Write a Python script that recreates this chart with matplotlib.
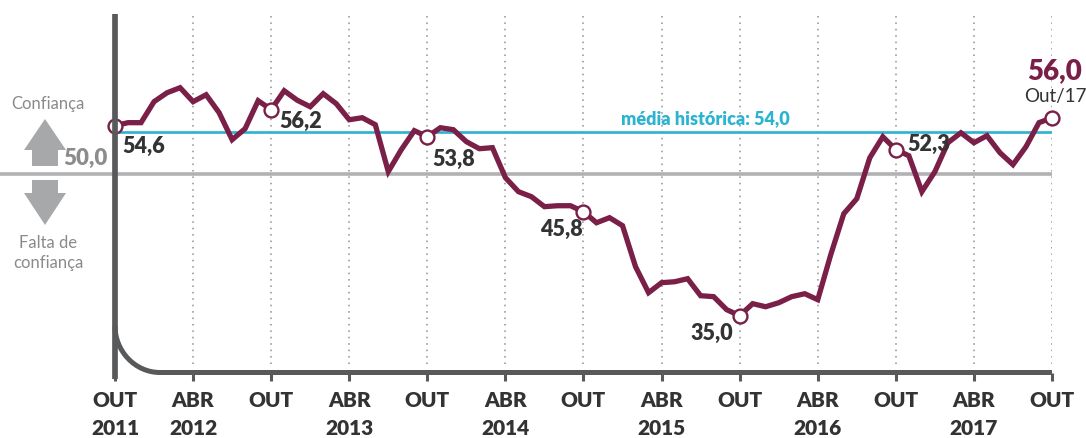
#Confidence index chart, Out/2011 to Out/2017

import matplotlib
matplotlib.use("Agg")
from matplotlib import pyplot as plt
from matplotlib.patches import Polygon, PathPatch
from matplotlib.path import Path
from matplotlib.transforms import Affine2D

plt.rcParams["font.family"] = ["Lato", "DejaVu Sans"]

#Monthly values
values = [54.57, 54.86, 54.86, 56.86, 57.71, 58.19, 56.86, 57.52, 55.81, 53.24, 54.29, 56.95,
          56.10, 57.90, 57.00, 56.38, 57.62, 56.67, 55.14, 55.33, 54.67, 50.20, 52.29, 54.10,
          53.52, 54.38, 54.19, 53.05, 52.38, 52.48, 49.62, 48.29, 47.81, 46.86, 46.95, 46.95,
          46.38, 45.33, 45.81, 45.05, 41.14, 38.67, 39.62, 39.71, 40.00, 38.38, 38.29, 37.05,
          36.48, 37.62, 37.33, 37.71, 38.29, 38.57, 38.00, 42.29, 46.19, 47.62, 51.52, 53.52,
          52.29, 51.71, 48.29, 50.19, 52.95, 53.90, 52.95, 53.62, 52.00, 50.86, 52.57, 54.86,
          55.33]
months = list(range(len(values)))

tick_months = [0, 6, 12, 18, 24, 30, 36, 42, 48, 54, 60, 66, 72]
tick_labels = ["OUT\n2011", "ABR\n2012", "OUT", "ABR\n2013", "OUT", "ABR\n2014", "OUT",
               "ABR\n2015", "OUT", "ABR\n2016", "OUT", "ABR\n2017", "OUT"]

marked_months = [0, 12, 24, 36, 48, 60, 72]
marked_labels = ["54,6", "56,2", "53,8", "45,8", "35,0", "52,3"]
#pixel positions of those labels: left edge and vertical centre
marked_pos = [(122, 146), (279, 121), (432, 159), (540, 229), (690, 333), (907, 144)]

neutral_level = 50.0
average_level = 54.0

WINE = "#7a1f47"
TEAL = "#2cb3cf"
DARK = "#58595b"
MID = "#a7a8aa"
TEXT = "#333333"

W, H = 1086, 439
fig = plt.figure(figsize=(W / 100, H / 100), dpi=100)

#axes run from Out/2011 to Out/2017, bottom on the baseline
left, right, top, bottom = 115, 1052, 16, 374
ax = fig.add_axes([left / W, 1 - bottom / H, (right - left) / W, (bottom - top) / H])
ax.set_xlim(0, 72)
unit = 10.5  # pixels per index point
ax.set_ylim(50 - (bottom - 174.7) / unit, 50 + (174.7 - top) / unit)
ax.patch.set_alpha(0)
for side in ax.spines:
    ax.spines[side].set_visible(False)
ax.set_yticks([])
ax.set_xticks(tick_months)
ax.set_xticklabels(tick_labels, fontsize=15, fontweight="heavy", color=TEXT, linespacing=1.6)
ax.tick_params(axis="x", length=6, width=2.2, color=DARK, pad=6)

#everything decorative is placed in image pixels
px = Affine2D().scale(1 / W, -1 / H).translate(0, 1) + fig.transFigure

for m in tick_months[1:]:
    ax.plot([m, m], [ax.get_ylim()[0] + 9 / unit, ax.get_ylim()[1]], color="#8f8f8f",
            linewidth=1.1, linestyle=(0, (1, 3.2)), zorder=1)

ax.plot([-10, 72], [neutral_level, neutral_level], color="#b2b2b4", linewidth=2.6,
        clip_on=False, zorder=2, solid_capstyle="butt")
ax.plot([0.4, 72], [average_level, average_level], color=TEAL, linewidth=1.9, zorder=2)

#axis with the rounded corner
axis_path = Path([(115, 15), (115, 380)], [Path.MOVETO, Path.LINETO])
fig.add_artist(PathPatch(axis_path, transform=px, fill=False, edgecolor=DARK, linewidth=4.1, capstyle="butt"))
corner = Path([(115, 327), (115, 352), (135, 373.5), (160, 373.5), (1052, 373.5)],
              [Path.MOVETO, Path.CURVE4, Path.CURVE4, Path.CURVE4, Path.LINETO])
fig.add_artist(PathPatch(corner, transform=px, fill=False, edgecolor=DARK, linewidth=3.6, capstyle="butt"))

#up and down arrows
up = [(45, 120), (66, 151), (58, 151), (58, 167), (32, 167), (32, 151), (24, 151)]
down = [(45, 226), (66, 194), (58, 194), (58, 181), (32, 181), (32, 194), (24, 194)]
fig.add_artist(Polygon(up, closed=True, transform=px, facecolor=MID, edgecolor="none"))
fig.add_artist(Polygon(down, closed=True, transform=px, facecolor=MID, edgecolor="none"))

ax.plot(months, values, color=WINE, linewidth=3.8, solid_joinstyle="miter", zorder=4, clip_on=False)
ax.plot([months[m] for m in marked_months], [values[m] for m in marked_months],
        linestyle="none", marker="o", markersize=10, markerfacecolor="white",
        markeredgecolor=WINE, markeredgewidth=1.7, zorder=5, clip_on=False)

for text, (x, y) in zip(marked_labels, marked_pos):
    fig.text(x, y, text, transform=px, ha="left", va="center", fontsize=15.5,
             fontweight="heavy", color=TEXT, zorder=6)

fig.text(48, 104, "Confiança", transform=px, ha="center", va="center", fontsize=12, color="#8a8a8c")
fig.text(48, 253, "Falta de\nconfiança", transform=px, ha="center", va="center", fontsize=12,
         color="#8a8a8c", linespacing=1.25)
fig.text(108, 158, "50,0", transform=px, ha="right", va="center", fontsize=16, fontweight="heavy", color="#8b8c8e")
fig.text(705, 119, "média histórica: 54,0", transform=px, ha="center", va="center", fontsize=13,
         fontweight="heavy", color=TEAL)
fig.text(1055, 71, "56,0", transform=px, ha="center", va="center", fontsize=20, fontweight="heavy", color=WINE)
fig.text(1055, 97, "Out/17", transform=px, ha="center", va="center", fontsize=13.5, color=TEXT)

fig.savefig("out.png", dpi=100)
